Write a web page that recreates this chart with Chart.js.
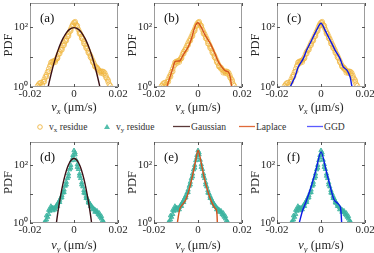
<!DOCTYPE html>
<html><head><meta charset="utf-8">
<script src="https://cdn.jsdelivr.net/npm/chart.js@4"></script>
<style>
body{margin:0;background:#fff;width:374px;height:253px;overflow:hidden;position:relative;font-family:"Liberation Serif",serif;}
canvas{position:absolute;}
#legend{position:absolute;left:0;top:118px;width:374px;height:18px;font-size:9.6px;color:#333;}
#legend span{position:absolute;top:3px;white-space:nowrap;line-height:11px;}
#legend sub{font-size:7px;vertical-align:-2px;line-height:0;}
</style></head>
<body>
<canvas id="pa" width="130" height="116" style="left:0;top:0"></canvas>
<canvas id="pb" width="130" height="116" style="left:124px;top:0"></canvas>
<canvas id="pc" width="127" height="116" style="left:247px;top:0"></canvas>
<canvas id="pd" width="130" height="115" style="left:0;top:138px"></canvas>
<canvas id="pe" width="130" height="115" style="left:124px;top:138px"></canvas>
<canvas id="pf" width="127" height="115" style="left:247px;top:138px"></canvas>
<div id="legend">
<svg style="position:absolute;left:0;top:0" width="374" height="18">
<circle cx="40" cy="9" r="2.3" fill="none" stroke="rgba(238,178,55,0.85)" stroke-width="1"/>
<polygon points="107,6 110,11 104,11" fill="rgba(64,183,163,0.9)"/>
<line x1="173" y1="8.5" x2="190" y2="8.5" stroke="#5a3838" stroke-width="1.3"/>
<line x1="239" y1="8.5" x2="255" y2="8.5" stroke="#e06a3a" stroke-width="1.3"/>
<line x1="307" y1="8.5" x2="323" y2="8.5" stroke="#5a5aff" stroke-width="1.3"/>
</svg>
<span style="left:49px">v<sub>x</sub> residue</span>
<span style="left:116px">v<sub>y</sub> residue</span>
<span style="left:191px">Gaussian</span>
<span style="left:256px">Laplace</span>
<span style="left:324px">GGD</span>
</div>
<script>
// ---- data ----
const xTickValues = [-0.02, 0, 0.02];
const xTickLabels = ['-0.02', '0', '0.02'];
const yTickValues = [1, 100];
const yTickLabels = ['10\u2070', '10\u00B2'];
const panelLabels = ['(a)', '(b)', '(c)', '(d)', '(e)', '(f)'];

const vxResidueX = [-0.0165,-0.016,-0.0155,-0.015,-0.0145,-0.014,-0.0135,-0.013,-0.0125,-0.012,-0.0115,-0.011,-0.0105,-0.01,-0.0095,-0.009,-0.0085,-0.008,-0.0075,-0.007,-0.0065,-0.006,-0.0055,-0.005,-0.0045,-0.004,-0.0035,-0.003,-0.0025,-0.002,-0.0015,-0.001,-0.0005,0,0.0005,0.001,0.0015,0.002,0.0025,0.003,0.0035,0.004,0.0045,0.005,0.0055,0.006,0.0065,0.007,0.0075,0.008,0.0085,0.009,0.0095,0.01,0.0105,0.011,0.0115,0.012,0.0125,0.013,0.0135,0.014,0.0145,0.015,0.0155,0.016,0.0165,
  -0.0155,-0.0135,-0.0125,-0.0115,-0.0105,-0.0095,-0.0085,-0.0075,-0.0065,-0.0055,-0.0045,-0.0035,-0.0025,-0.0015,-0.0005,0.0005,0.0015,0.0025,0.0035,0.0045,0.0055,0.0065,0.0075,0.0085,0.0095,0.0105,0.0115,0.0125,0.0135,0.0145,0.0155];
const vxResiduePdf = [1.1,1.25,1.05,1.4,1.2,1.5,1.8,2.2,2.6,3.2,4.0,5.0,6.5,7.0,7.2,7.4,7.8,8.5,10,12.5,15,17,20,24,29,34,40,48,58,70,85,105,125,140,135,118,98,82,68,58,48,40,33,27,23,19,16,13,11,9,7.5,6.2,5.2,4.6,4.4,3.9,3.5,3.3,3.3,3.3,3.2,2.9,2.4,1.9,1.5,1.25,1.1,
  1.35,1.5,2.2,3.3,5.5,6.3,6.8,9,13,17.5,25,35,50,75,112,150,110,60,42,28,20,14,9.8,6.8,4.8,4.0,3.0,2.9,2.7,2.1,1.7];

const vyResidueX = [-0.0135,-0.013,-0.0125,-0.012,-0.0115,-0.011,-0.0105,-0.01,-0.0095,-0.009,-0.0085,-0.008,-0.0075,-0.007,-0.0065,-0.006,-0.0055,-0.005,-0.0045,-0.004,-0.0035,-0.003,-0.0025,-0.002,-0.0015,-0.001,-0.0005,0,0.0005,0.001,0.0015,0.002,0.0025,0.003,0.0035,0.004,0.0045,0.005,0.0055,0.006,0.0065,0.007,0.0075,0.008,0.0085,0.009,0.0095,0.01,0.0105,0.011,0.0115,0.012,0.0125,0.013,0.0135,
  -0.0125,-0.0115,-0.0105,-0.0095,-0.0085,-0.0075,-0.0065,-0.0055,-0.0045,-0.0035,-0.0025,-0.0015,-0.0005,0.0005,0.0015,0.0025,0.0035,0.0045,0.0055,0.0065,0.0075,0.0085,0.0095,0.0105,0.0115,0.0125];
const vyResiduePdf = [1.05,1.15,1.3,1.6,2.0,2.6,3.1,3.4,3.3,3.2,3.5,4.0,4.6,5.3,6.2,7.4,9,11,14,19,26,35,50,70,100,145,220,320,230,150,105,72,50,35,25,18,13.5,10.5,8.5,7,5.8,4.9,4.3,3.8,3.4,3.1,2.9,2.6,2.3,2.0,1.8,1.6,1.4,1.2,1.1,
  1.8,2.8,3.8,2.7,2.9,3.8,5.2,7.5,11.5,21,40,80,180,270,85,42,21,11,7.2,5,3.8,2.9,2.4,2.6,2.2,1.7];

const gaussVxX = [-0.013,-0.012,-0.011,-0.01,-0.009,-0.008,-0.007,-0.006,-0.005,-0.004,-0.003,-0.002,-0.001,0,0.001,0.002,0.003,0.004,0.005,0.006,0.007,0.008,0.009,0.01,0.011,0.012,0.013];
const gaussVxPdf = [0.37,0.84,1.78,3.55,6.6,11.6,19,29,41.7,56,70.7,83,92,95,92,83,70.7,56,41.7,29,19,11.6,6.6,3.55,1.78,0.84,0.37];
const laplaceVxX = [-0.0142,-0.0127,-0.0112,-0.0105,-0.0092,-0.0082,-0.0067,-0.0044,-0.0029,-0.0014,0,0.0017,0.0032,0.0055,0.0077,0.0092,0.0108,0.0123,0.0138,0.0146,0.0153];
const laplaceVxPdf = [1,2.2,4.7,7,7.3,7.5,11.7,22,42,102,138,91,54,29,13,7,4.7,3.5,3.2,2.2,1];
const ggdVxX = [-0.014,-0.0133,-0.0118,-0.0103,-0.008,-0.0065,-0.0042,-0.002,0,0.0018,0.0041,0.0064,0.0086,0.0101,0.0117,0.0132,0.0138,0.0141];
const ggdVxPdf = [1,1.3,2.2,4.7,9,17,37,79,133,79,37,17,9,4.7,3.7,2.2,1.3,1];

const gaussVyX = [-0.0085,-0.008,-0.0075,-0.007,-0.006,-0.005,-0.004,-0.003,-0.002,-0.001,0,0.001,0.002,0.003,0.004,0.005,0.006,0.007,0.0075,0.008,0.0085];
const gaussVyPdf = [0.52,1.0,1.9,3.4,9.5,23,47,83,123,157,170,157,123,83,47,23,9.5,3.4,1.9,1.0,0.52];
const laplaceVyX = [-0.0094,-0.0082,-0.0068,-0.0056,-0.0041,-0.0026,-0.001,0,0.0012,0.0027,0.0043,0.0058,0.0073,0.0084,0.0088];
const laplaceVyPdf = [1,3.2,4.6,6.2,13.7,40,148,330,148,40,13.7,6.2,3.6,2.8,1];
const ggdVyX = [-0.0099,-0.0083,-0.0068,-0.0045,-0.0023,0,0.0023,0.0042,0.006,0.0076,0.0088,0.0094];
const ggdVyPdf = [1,2.8,5.4,18,67,288,67,18,6.2,4.8,3.6,1];

// ---- styling / layout ----
const SERIF = '"Liberation Serif", "Times New Roman", serif';
const pts = (xs, ys) => xs.map((x, i) => ({x: x, y: ys[i]}));
const residues = {
  vx: {data: pts(vxResidueX, vxResiduePdf), pointStyle: 'circle', radius: 2.4, borderColor: 'rgba(240,182,62,0.72)', backgroundColor: 'rgba(0,0,0,0)'},
  vy: {data: pts(vyResidueX, vyResiduePdf), pointStyle: 'triangle', radius: 2.5, borderColor: 'rgba(60,180,160,0.85)', backgroundColor: 'rgba(60,180,160,0.75)'}
};
const fits = {
  gaussVx: {data: pts(gaussVxX, gaussVxPdf), color: '#3a0f14'},
  laplaceVx: {data: pts(laplaceVxX, laplaceVxPdf), color: '#d4521c'},
  ggdVx: {data: pts(ggdVxX, ggdVxPdf), color: '#0c18e6'},
  gaussVy: {data: pts(gaussVyX, gaussVyPdf), color: '#3a0f14'},
  laplaceVy: {data: pts(laplaceVyX, laplaceVyPdf), color: '#d4521c'},
  ggdVy: {data: pts(ggdVyX, ggdVyPdf), color: '#0c18e6'}
};
const panels = [
  {id: 'pa', res: 'vx', fit: 'gaussVx', sub: 'x', padT: 3, padR: 12, xH: 29, titleDy: 24},
  {id: 'pb', res: 'vx', fit: 'laplaceVx', sub: 'x', padT: 3, padR: 12, xH: 29, titleDy: 24},
  {id: 'pc', res: 'vx', fit: 'ggdVx', sub: 'x', padT: 3, padR: 9, xH: 29, titleDy: 24},
  {id: 'pd', res: 'vy', fit: 'gaussVy', sub: 'y', padT: 4, padR: 12, xH: 30, titleDy: 26},
  {id: 'pe', res: 'vy', fit: 'laplaceVy', sub: 'y', padT: 4, padR: 12, xH: 30, titleDy: 26},
  {id: 'pf', res: 'vy', fit: 'ggdVy', sub: 'y', padT: 4, padR: 9, xH: 30, titleDy: 26}
];

function line(ctx, x1, y1, x2, y2) { ctx.beginPath(); ctx.moveTo(x1, y1); ctx.lineTo(x2, y2); ctx.stroke(); }

const decorPlugin = {
  id: 'decor',
  afterDraw(chart) {
    const cfg = chart.options.plugins.decor;
    const {ctx, chartArea: a, scales} = chart;
    ctx.save();
    ctx.strokeStyle = '#9c9c9c'; ctx.lineWidth = 1;
    ctx.strokeRect(a.left + 0.5, a.top + 0.5, a.right - a.left - 1, a.bottom - a.top - 1);
    ctx.strokeStyle = '#555';
    xTickValues.forEach(v => {
      const px = Math.round(scales.x.getPixelForValue(v)) + 0.5;
      line(ctx, px, a.bottom, px, a.bottom - 3);
      line(ctx, px, a.top, px, a.top + 3);
    });
    [1, 10, 100].forEach(v => {
      const py = Math.round(scales.y.getPixelForValue(v)) + 0.5;
      line(ctx, a.left, py, a.left + 3, py);
      line(ctx, a.right, py, a.right - 3, py);
    });
    // panel label
    ctx.fillStyle = '#111';
    ctx.font = '13px ' + SERIF;
    ctx.textBaseline = 'alphabetic';
    ctx.fillText(cfg.label, a.left + 10, a.top + 19);
    // x axis title  v_x (μm/s)
    const parts = [
      {t: 'v', f: 'italic 12.5px ' + SERIF, dy: 0},
      {t: cfg.sub, f: 'italic 8.5px ' + SERIF, dy: 3},
      {t: ' (\u03BCm/s)', f: '12.5px ' + SERIF, dy: 0}
    ];
    let w = 0;
    parts.forEach(p => { ctx.font = p.f; p.w = ctx.measureText(p.t).width; w += p.w; });
    let x = (a.left + a.right) / 2 - w / 2;
    const base = a.bottom + cfg.titleDy;
    ctx.fillStyle = '#262626';
    parts.forEach(p => { ctx.font = p.f; ctx.fillText(p.t, x, base + p.dy); x += p.w; });
    ctx.restore();
  }
};

panels.forEach((p, k) => {
  const r = residues[p.res];
  const f = fits[p.fit];
  new Chart(document.getElementById(p.id), {
    type: 'scatter',
    data: {
      datasets: [
        {data: f.data, showLine: true, borderColor: f.color, borderWidth: 1.4, pointRadius: 0, tension: 0.3, fill: false},
        {data: r.data, showLine: false, pointStyle: r.pointStyle, pointRadius: r.radius, pointBorderWidth: 1,
         borderColor: r.borderColor, backgroundColor: r.backgroundColor}
      ]
    },
    options: {
      responsive: false, animation: false, events: [],
      layout: {autoPadding: false, padding: {top: p.padT, right: p.padR, left: 0, bottom: 0}},
      plugins: {legend: {display: false}, tooltip: {enabled: false},
        decor: {label: panelLabels[k], sub: p.sub, titleDy: p.titleDy}},
      scales: {
        x: {
          type: 'linear', min: -0.02, max: 0.02,
          afterBuildTicks: s => { s.ticks = xTickValues.map(v => ({value: v})); },
          ticks: {callback: (v, i) => xTickLabels[i], font: {family: SERIF, size: 11}, color: '#262626', padding: 1, maxRotation: 0, autoSkip: false},
          grid: {display: false, drawTicks: false}, border: {display: false},
          afterFit: s => { s.height = p.xH; s.paddingLeft = 0; s.paddingRight = 0; }
        },
        y: {
          type: 'logarithmic', min: 1, max: 630,
          afterBuildTicks: s => { s.ticks = yTickValues.map(v => ({value: v})); },
          ticks: {callback: (v, i) => yTickLabels[i], font: {family: SERIF, size: 11}, color: '#262626', padding: 2, autoSkip: false},
          grid: {display: false, drawTicks: false}, border: {display: false},
          title: {display: true, text: 'PDF', font: {family: SERIF, size: 12.5}, color: '#262626', padding: {top: 1, bottom: 0}},
          afterFit: s => { s.width = 30; s.paddingTop = 0; s.paddingBottom = 0; }
        }
      }
    },
    plugins: [decorPlugin]
  });
});
</script>
</body></html>
